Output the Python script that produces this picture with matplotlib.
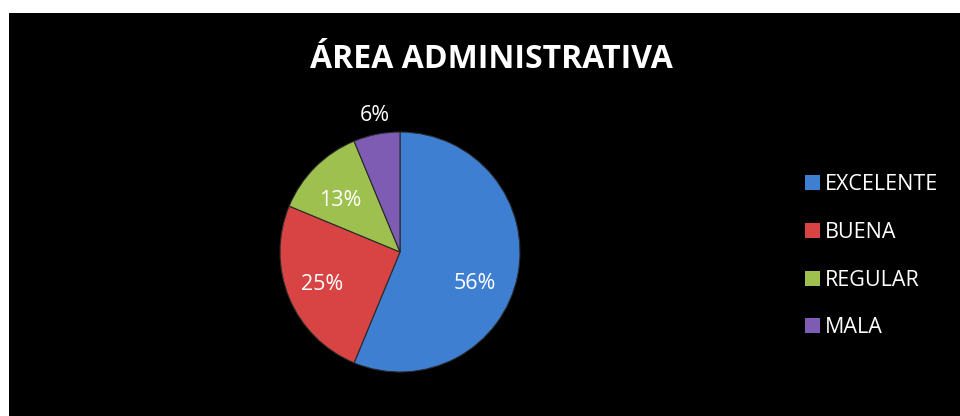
import matplotlib
matplotlib.use("Agg")
import matplotlib.pyplot as plt
from matplotlib.patches import Rectangle, Patch
import numpy as np

title = "ÁREA ADMINISTRATIVA"
categories = ["EXCELENTE", "BUENA", "REGULAR", "MALA"]
values = [9, 4, 2, 1]
colors = ["#3F7FD2", "#D84444", "#9DC04E", "#7E5CB3"]

W, H = 960, 416
fig = plt.figure(figsize=(W / 100, H / 100), dpi=100, facecolor="white")
fig.patches.append(Rectangle((9 / W, 0), 1 - 9 / W, (H - 13) / H,
                             transform=fig.transFigure, facecolor="black",
                             edgecolor="none", zorder=-10))

fig.text(491 / W, 1 - 60 / H, title, color="white", fontsize=23,
         fontweight="bold", family="Open Sans", ha="center", va="center")

cx, cy, r = 400, 252, 120
ax = fig.add_axes([(cx - r) / W, (H - cy - r) / H, 2 * r / W, 2 * r / H])
ax.set_facecolor("none")
ax.set_zorder(5)

def fmt(p):
    return f"{int(p + 0.5)}%"

wedges, texts, autotexts = ax.pie(
    values, colors=colors, startangle=90, counterclock=False,
    autopct=fmt, pctdistance=0.65,
    wedgeprops=dict(edgecolor="#2a2a2a", linewidth=0.8),
    textprops=dict(color="white", fontsize=15.5, family="Open Sans"))
ax.set_xlim(-1, 1)
ax.set_ylim(-1, 1)
ax.set_aspect("equal")

label_pos = [(0.62, -0.26), (-0.65, -0.275), (-0.5, 0.43), (-0.21, 1.14)]
for t, pos in zip(autotexts, label_pos):
    t.set_position(pos)
    t.set_clip_on(False)

handles = [Patch(facecolor=c, edgecolor="none") for c in colors]
leg = fig.legend(handles, categories, loc="upper left",
                 bbox_to_anchor=(794 / W, 1 - 163 / H),
                 frameon=False, labelcolor="white",
                 prop=dict(family="Open Sans", size=15.5),
                 handlelength=0.7, handleheight=0.7, handletextpad=0.25,
                 labelspacing=1.25, borderpad=0)

fig.savefig("out.png", dpi=100, facecolor="white")
